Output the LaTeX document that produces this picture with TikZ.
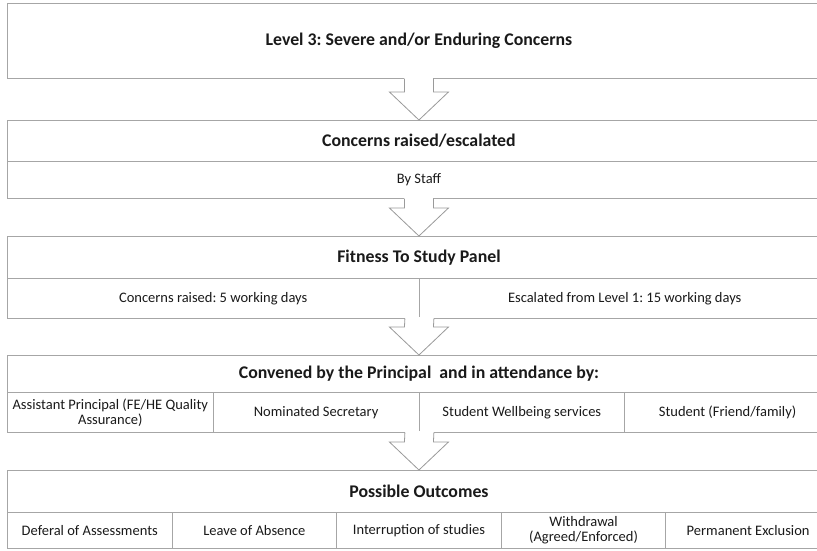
\documentclass[tikz,border=0pt]{standalone}
\usepackage{fontspec}
\setmainfont{Carlito}
\usetikzlibrary{calc}
\definecolor{linegray}{HTML}{A6A6A6}
\definecolor{arrowgray}{HTML}{9A9A9A}
\definecolor{txt}{HTML}{1A1A1A}
\newcommand{\blockarrow}[2]{%
  \fill[white] ($(#1)+(-14.5,-1.5)$) rectangle ($(#1)+(14.5,1)$);
  \draw[arrowgray, line width=0.8pt, line join=miter]
    ($(#1)+(-14.5,-0.4)$) -- ($(#2)+(-14.5,-28)$) -- ($(#2)+(-29.5,-28)$) --
    (#2) -- ($(#2)+(29.5,-28)$) -- ($(#2)+(14.5,-28)$) -- ($(#1)+(14.5,-0.4)$);
}
\begin{document}
\frenchspacing
\begin{tikzpicture}[x=1pt, y=-1pt,
  cell/.style={draw=linegray, line width=0.9pt, inner sep=0pt, anchor=north west,
    text=txt, align=center, font=\fontsize{14.5}{15.5}\selectfont},
  titlecell/.style={cell, font=\fontsize{17.8}{19}\selectfont\bfseries}]
\useasboundingbox (0,0) rectangle (817,550);
\clip (0,0) rectangle (817,550);
\fill[white] (0,0) rectangle (817,550);
% Box 1
\node[titlecell, minimum width=823pt, minimum height=75pt] (b1) at (7,3) {Level 3: Severe and/or Enduring Concerns};
% Box 2
\node[titlecell, minimum width=823pt, minimum height=41pt] (b2t) at (7,120) {Concerns raised/escalated};
\node[cell, minimum width=823pt, minimum height=37pt] (b2s) at (7,161) {By Staff};
% Box 3
\node[titlecell, minimum width=823pt, minimum height=42pt] (b3t) at (7,236) {Fitness To Study Panel};
\node[cell, minimum width=411.5pt, minimum height=40pt] (b3a) at (7,278) {Concerns raised: 5 working days};
\node[cell, minimum width=411.5pt, minimum height=40pt] (b3b) at (418.5,278) {Escalated from Level 1: 15 working days};
% Box 4
\node[titlecell, minimum width=823pt, minimum height=37pt] (b4t) at (7,355) {Convened by the Principal\ \ and in attendance by:};
\node[cell, minimum width=205.75pt, minimum height=40pt] (b4a) at (7,392) {Assistant Principal (FE/HE Quality\\Assurance)};
\node[cell, minimum width=205.75pt, minimum height=40pt] (b4b) at (212.75,392) {Nominated Secretary};
\node[cell, minimum width=205.75pt, minimum height=40pt] (b4c) at (418.5,392) {Student Wellbeing services};
\node[cell, minimum width=205.75pt, minimum height=40pt] (b4d) at (624.25,392) {Student (Friend/family)};
% Box 5
\node[titlecell, minimum width=823pt, minimum height=42pt] (b5t) at (7,470) {Possible Outcomes};
\node[cell, minimum width=164.6pt, minimum height=36pt] (b5a) at (7,512) {Deferal of Assessments};
\node[cell, minimum width=164.6pt, minimum height=36pt] (b5b) at (171.6,512) {Leave of Absence};
\node[cell, minimum width=164.6pt, minimum height=36pt] (b5c) at (336.2,512) {Interruption of studies};
\node[cell, minimum width=164.6pt, minimum height=36pt] (b5d) at (500.8,512) {Withdrawal\\(Agreed/Enforced)};
\node[cell, minimum width=164.6pt, minimum height=36pt] (b5e) at (665.4,512) {Permanent Exclusion};
% Arrows
\blockarrow{b1.south}{b2t.north}
\blockarrow{b2s.south}{b3t.north}
\blockarrow{b3a.south east}{b4t.north}
\blockarrow{b4b.south east}{b5t.north}
\end{tikzpicture}
\end{document}
